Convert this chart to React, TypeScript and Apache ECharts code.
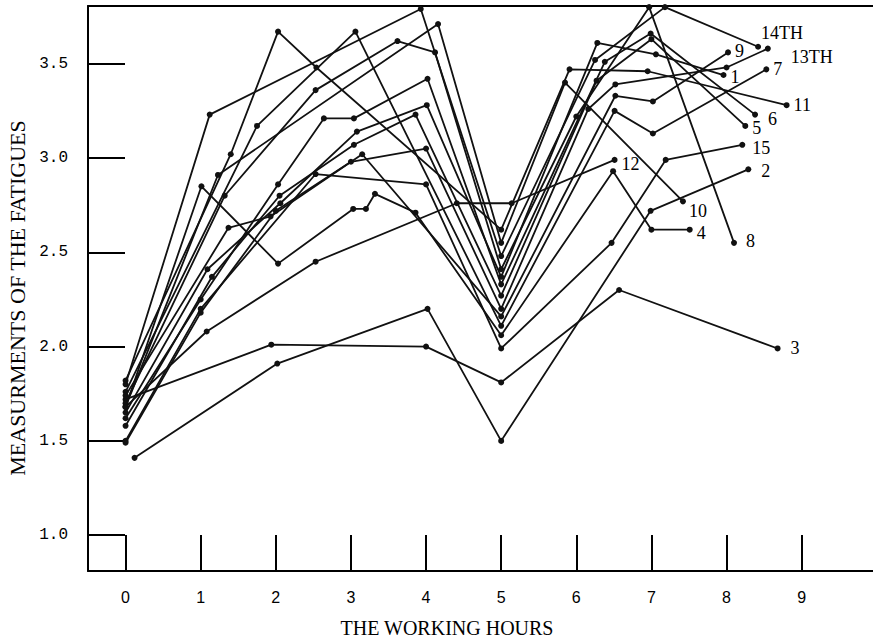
import React, { useEffect, useRef } from "react";
import * as echarts from "echarts";

// Tick values
const hourTicks = [0, 1, 2, 3, 4, 5, 6, 7, 8, 9];
const fatigueTicks = [1.0, 1.5, 2.0, 2.5, 3.0, 3.5];

// Series: [working hour, measurement of fatigue]
const s1 = [[0, 1.65], [1.09, 2.41], [2.06, 2.76], [3.08, 3.14], [4.01, 3.28], [5.0, 2.37], [6.28, 3.61], [7.06, 3.55], [7.96, 3.44]];
const s2 = [[0.12, 1.41], [2.02, 1.91], [4.02, 2.2], [5.0, 1.5], [6.99, 2.72], [8.29, 2.94]];
const s3 = [[0, 1.72], [1.94, 2.01], [4.0, 2.0], [5.0, 1.81], [6.57, 2.3], [8.68, 1.99]];
const s4 = [[0, 1.68], [1.01, 2.85], [2.03, 2.44], [3.03, 2.73], [3.2, 2.73], [3.32, 2.81], [3.86, 2.71], [5.0, 2.06], [6.49, 2.93], [7.0, 2.62], [7.51, 2.62]];
const s5 = [[0, 1.58], [1.15, 2.37], [2.05, 2.8], [3.04, 3.07], [3.86, 3.23], [5.0, 2.27], [6.27, 3.41], [7.0, 3.63], [8.25, 3.17]];
const s6 = [[0, 1.62], [1.0, 2.25], [2.03, 2.86], [2.64, 3.21], [3.04, 3.21], [4.02, 3.42], [5.0, 2.33], [6.38, 3.51], [6.99, 3.66], [8.38, 3.23]];
const s7 = [[0, 1.76], [1.75, 3.17], [3.06, 3.67], [5.0, 2.11], [6.51, 3.25], [7.02, 3.13], [8.53, 3.47]];
const s8 = [[0, 1.7], [1.32, 2.8], [2.53, 3.36], [3.62, 3.62], [4.12, 3.56], [5.0, 2.41], [6.0, 3.22], [6.97, 3.8], [8.1, 2.55]];
const s9 = [[0, 1.74], [1.37, 2.63], [1.93, 2.69], [3.15, 3.02], [5.0, 2.16], [6.52, 3.33], [7.02, 3.3], [8.02, 3.56]];
const s10 = [[0, 1.68], [1.23, 2.91], [4.16, 3.71], [5.0, 2.55], [5.85, 3.4], [7.42, 2.77]];
const s11 = [[0, 1.82], [1.4, 3.02], [2.03, 3.67], [2.54, 3.48], [5.0, 2.62], [5.91, 3.47], [6.95, 3.46], [8.8, 3.28]];
const s12 = [[0, 1.68], [1.08, 2.08], [2.53, 2.45], [4.41, 2.76], [5.14, 2.76], [6.51, 2.99]];
const s13 = [[0, 1.49], [1.0, 2.18], [2.0, 2.72], [3.0, 2.98], [4.0, 3.05], [5.0, 2.2], [6.16, 3.26], [6.52, 3.39], [8.0, 3.48], [8.55, 3.58]];
const s14 = [[0, 1.8], [1.12, 3.23], [3.93, 3.79], [5.0, 2.48], [6.25, 3.52], [7.18, 3.8], [8.42, 3.59]];
const s15 = [[0, 1.5], [1.0, 2.2], [2.53, 2.915], [4.0, 2.86], [5.0, 1.99], [6.47, 2.55], [7.19, 2.99], [8.21, 3.07]];

const seriesNames = ["1", "2", "3", "4", "5", "6", "7", "8", "9", "10", "11", "12", "13TH", "14TH", "15"];
const seriesData = [s1, s2, s3, s4, s5, s6, s7, s8, s9, s10, s11, s12, s13, s14, s15];

// label placement (style only)
const labelOffsets: Record<string, [number, number]> = {
  "1": [4, 2], "2": [10, 2], "3": [10, 0], "4": [4, 3], "5": [4, 2], "6": [10, 4],
  "7": [4, 0], "8": [9, -2], "9": [4, -1], "10": [3, 10], "11": [4, 0], "12": [4, 4],
  "13TH": [20, 8], "14TH": [0, -14], "15": [7, 3],
};

const axisColor = "#000";

export default function App() {
  const ref = useRef<HTMLDivElement>(null);
  useEffect(() => {
    const chart = echarts.init(ref.current!, null, { renderer: "svg" });
    const series = seriesData.map((pts, si) => {
      const name = seriesNames[si];
      return {
        type: "line",
        name,
        clip: false,
        symbol: "circle",
        symbolSize: 6,
        showSymbol: true,
        itemStyle: { color: "#111" },
        lineStyle: { color: "#111", width: 1.8 },
        emphasis: { disabled: true },
        data: pts.map((p, i) =>
          i === pts.length - 1
            ? {
                value: p,
                label: {
                  show: true,
                  formatter: name,
                  position: "right",
                  distance: 0,
                  offset: labelOffsets[name],
                  fontFamily: "Liberation Serif",
                  fontSize: 18,
                  color: "#000",
                },
              }
            : p
        ),
      };
    });
    chart.setOption({
      animation: false,
      backgroundColor: "#fff",
      grid: { left: 88, right: 0, top: 6, bottom: 73 },
      xAxis: [
        {
          type: "value",
          min: -0.5,
          max: 9.95,
          position: "bottom",
          axisLine: { show: true, onZero: false, lineStyle: { color: axisColor, width: 2 } },
          axisTick: { show: true, inside: true, length: 36, customValues: hourTicks, lineStyle: { color: axisColor, width: 2 } },
          axisLabel: {
            customValues: hourTicks,
            formatter: (v: number) => String(v),
            margin: 18,
            fontFamily: "Liberation Sans",
            fontSize: 16,
            color: "#000",
          },
          splitLine: { show: false },
        },
        {
          type: "value",
          min: -0.5,
          max: 9.95,
          position: "top",
          axisLine: { show: true, onZero: false, lineStyle: { color: axisColor, width: 2 } },
          axisTick: { show: false },
          axisLabel: { show: false },
          splitLine: { show: false },
        },
      ],
      yAxis: {
        type: "value",
        min: 0.81,
        max: 3.806,
        axisLine: { show: true, onZero: false, lineStyle: { color: axisColor, width: 2 } },
        axisTick: { show: true, inside: true, length: 37, customValues: fatigueTicks, lineStyle: { color: axisColor, width: 2 } },
        axisLabel: {
          customValues: fatigueTicks,
          formatter: (v: number) => v.toFixed(1),
          margin: 20,
          fontFamily: "Liberation Mono",
          fontSize: 16,
          color: "#000",
        },
        splitLine: { show: false },
      },
      graphic: [
        {
          type: "text",
          x: 17.5,
          y: 298,
          rotation: Math.PI / 2,
          style: {
            text: "MEASURMENTS OF THE FATIGUES",
            fontFamily: "Liberation Serif",
            fontSize: 22,
            fill: "#000",
            align: "center",
            verticalAlign: "middle",
          },
        },
        {
          type: "text",
          x: 447,
          y: 628,
          style: {
            text: "THE WORKING HOURS",
            fontFamily: "Liberation Serif",
            fontSize: 20,
            fill: "#000",
            align: "center",
            verticalAlign: "middle",
          },
        },
      ],
      series,
    });
    return () => chart.dispose();
  }, []);
  return (
    <div
      ref={ref}
      style={{ position: "fixed", left: 0, top: 0, width: 873, height: 644, background: "#fff" }}
    />
  );
}
